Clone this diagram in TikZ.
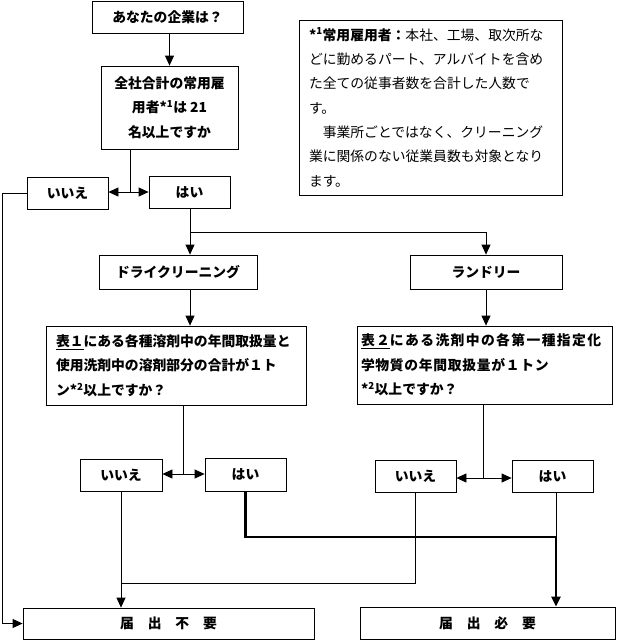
\documentclass[tikz,border=0pt]{standalone}
\usepackage{fontspec}
\setmainfont{Noto Sans CJK JP}
\usetikzlibrary{arrows.meta}
\begin{document}
\begin{tikzpicture}[x=1pt,y=-1pt,
  box/.style={draw,line width=0.8pt,inner sep=2pt,
    font=\fontsize{13.8}{24.5}\selectfont\bfseries,align=center},
  qbox/.style={box,align=left},
  note/.style={draw,line width=0.8pt,inner sep=2pt,
    font=\fontsize{13.8}{24.4}\selectfont,align=left},
  ln/.style={line width=0.8pt},
  arr/.style={ln,-{Triangle[length=10pt,width=9pt]}},
  thk/.style={line width=2.6pt},
  thkarr/.style={thk,-{Triangle[length=10pt,width=9pt]}}]
\useasboundingbox (0,0) rectangle (616,640);

% nodes
\node[box,minimum width=151pt,minimum height=32pt] (start) at (167.5,17) {あなたの企業は？};
\node[box,minimum width=137pt,minimum height=83pt] (q1) at (169.5,107.5)
  {全社合計の常用雇\\用者*\textsuperscript{1}は 21\\名以上ですか};
\node[note,minimum width=263pt,minimum height=175pt,text width=243pt] (nt) at (430.5,107.5)
  {\textbf{*\textsuperscript{1}常用雇用者：}本社、工場、取次所な\\
   どに勤めるパート、アルバイトを含め\\
   た全ての従事者数を合計した人数で\\
   す。\\
   　事業所ごとではなく、クリーニング\\
   業に関係のない従業員数も対象となり\\
   ます。};
\node[box,minimum width=81pt,minimum height=32pt] (no1) at (67.5,193) {いいえ};
\node[box,minimum width=81pt,minimum height=32pt] (yes1) at (189.5,192) {はい};
\node[box,minimum width=158pt,minimum height=34pt] (dry) at (178,272) {ドライクリーニング};
\node[box,minimum width=152pt,minimum height=34pt] (laun) at (486,272) {ランドリー};
\node[qbox,minimum width=260pt,minimum height=79pt,text width=240pt] (q2) at (176,365.5)
  {\underline{表１}にある各種溶剤中の年間取扱量と\\使用洗剤中の溶剤部分の合計が１ト\\ン*\textsuperscript{2}以上ですか？};
\node[qbox,minimum width=255pt,minimum height=78pt,text width=247pt] (q3) at (484.5,365)
  {{\addfontfeature{LetterSpace=10}\underline{表２}にある洗剤中の各第一種指定化}\\
   {\addfontfeature{LetterSpace=5}学物質の年間取扱量が１トン}\\{}*\textsuperscript{2}以上ですか？};
\node[box,minimum width=82pt,minimum height=32pt] (no2) at (121,475) {いいえ};
\node[box,minimum width=81pt,minimum height=33pt] (yes2) at (245.5,474.5) {はい};
\node[box,minimum width=81pt,minimum height=32pt] (no3) at (415.5,476) {いいえ};
\node[box,minimum width=81pt,minimum height=32pt] (yes3) at (552.5,476) {はい};
\node[box,minimum width=291pt,minimum height=31pt] (notreq) at (168.5,623.5) {届　出　不　要};
\node[box,minimum width=255pt,minimum height=32pt] (req) at (487.5,623) {届　出　必　要};

% junction coordinates
\coordinate (j1) at (130,192);
\coordinate (L) at (2,193);
\coordinate (b1) at (190,232);
\coordinate (j2) at (183,474);
\coordinate (j3) at (483,478);
\coordinate (k) at (556,537);
\coordinate (m) at (121,583);

% connectors
\draw[arr] (start.south -| q1.north) -- (q1.north);
\draw[ln] (q1.south -| j1) -- (j1);
\draw[arr] (j1) -- (j1 -| no1.east);
\draw[arr] (j1) -- (j1 -| yes1.west);
\draw[arr] (no1.west) -- (L) |- (notreq.west);
\draw[ln] (yes1.south -| b1) -- (b1);
\draw[arr] (b1) -- (b1 |- dry.north);
\draw[arr] (b1) -| (laun.north);
\draw[arr] (dry.south -| b1) -- (q2.north -| b1);
\draw[arr] (laun.south) -- (q3.north -| laun.south);
\draw[ln] (q2.south -| j2) -- (j2);
\draw[arr] (j2) -- (j2 -| no2.east);
\draw[arr] (j2) -- (j2 -| yes2.west);
\draw[ln] (q3.south -| j3) -- (j3);
\draw[arr] (j3) -- (j3 -| no3.east);
\draw[arr] (j3) -- (j3 -| yes3.west);
\draw[ln] (yes3.south -| k) -- (k);
\draw[thkarr] (yes2.south) |- (k) -- (k |- req.north);
\draw[arr] (no2.south) -- (no2.south |- notreq.north);
\draw[ln] (no3.south) |- (m);
\end{tikzpicture}
\end{document}
